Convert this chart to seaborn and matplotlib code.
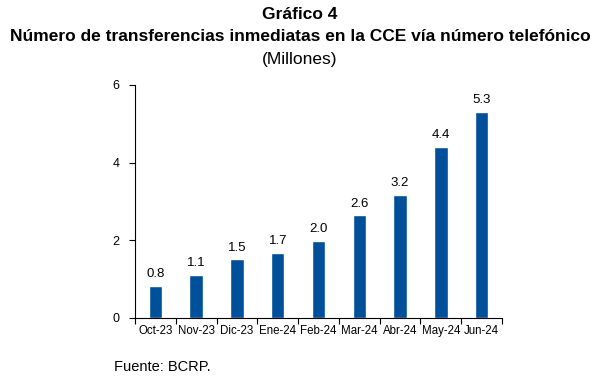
import matplotlib
matplotlib.use("Agg")
import matplotlib.pyplot as plt
import seaborn as sb
import pandas as pd
import numpy as np

meses = ['Oct-23', 'Nov-23', 'Dic-23', 'Ene-24', 'Feb-24', 'Mar-24', 'Abr-24', 'May-24', 'Jun-24']
millones = [0.83, 1.11, 1.51, 1.68, 1.98, 2.64, 3.16, 4.40, 5.31]

sb.set_style('white')
plt.rcParams['font.family'] = ['Liberation Sans', 'DejaVu Sans']
plt.rcParams['text.color'] = 'black'
plt.rcParams['xtick.color'] = 'black'
plt.rcParams['ytick.color'] = 'black'
plt.rcParams['axes.labelcolor'] = 'black'

df = pd.DataFrame({'mes': meses, 'valor': millones})

fig = plt.figure(figsize=(6, 3.81), dpi=100)
ax = fig.add_axes([0.225, 0.1654, 0.6117, 0.6116])
sb.barplot(data=df, x='mes', y='valor', color='#004f9a', saturation=1, width=0.33, ax=ax)

for i, v in enumerate(millones):
    ax.text(i, v + 0.15, f'{v:.1f}', ha='center', va='bottom', fontsize=9.5)

ax.set_ylim(0, 6)
ax.set_xlim(-0.5, len(meses) - 0.5)
ax.set_yticks([0, 2, 4, 6])
ax.set_yticklabels(['0', '2', '4', '6'], fontsize=9)
ax.set_xticks(np.arange(len(meses)))
ax.set_xticklabels(meses, fontsize=8.3)
ax.tick_params(axis='x', length=0, pad=5)
ax.tick_params(axis='y', length=4, width=0.8, direction='out', left=True, pad=7)
# marcas del eje x entre categorias
ax.set_xticks(np.arange(len(meses) + 1) - 0.5, minor=True)
ax.tick_params(axis='x', which='minor', length=4, width=0.8, direction='out', bottom=True)
ax.set_xlabel('')
ax.set_ylabel('')
for s in ['top', 'right']:
    ax.spines[s].set_visible(False)
for s in ['left', 'bottom']:
    ax.spines[s].set_color('black')
    ax.spines[s].set_linewidth(0.8)

fig.text(0.5, 0.962, 'Gráfico 4', ha='center', va='center', fontsize=12.5, fontweight='bold')
fig.text(0.5, 0.903, 'Número de transferencias inmediatas en la CCE vía número telefónico',
         ha='center', va='center', fontsize=12.5, fontweight='bold')
fig.text(0.5, 0.843, '(Millones)', ha='center', va='center', fontsize=12.5)
fig.text(0.19, 0.036, 'Fuente: BCRP.', ha='left', va='center', fontsize=10.5)

plt.savefig('out.png', dpi=100)
